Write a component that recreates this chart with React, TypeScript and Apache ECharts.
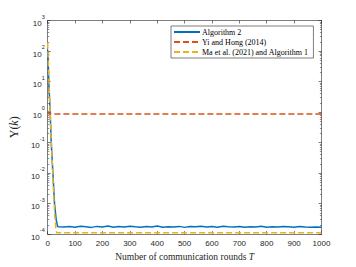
import React, { useEffect, useRef } from "react";
import * as echarts from "echarts";

const seriesNames = ["Algorithm 2", "Yi and Hong (2014)", "Ma et al. (2021) and Algorithm 1"];

const algo2Rounds = [0, 4, 9, 13, 19, 25, 31, 36, 40, 60, 80, 100, 120, 140, 160, 180, 200, 220, 240, 260, 280, 300, 320, 340, 360, 380, 400, 420, 440, 460, 480, 500, 520, 540, 560, 580, 600, 620, 640, 660, 680, 700, 720, 740, 760, 780, 800, 820, 840, 860, 880, 900, 920, 940, 960, 980, 1000];
const algo2Values = [110, 10, 1, 0.1, 0.01, 0.001, 3e-4, 1.8e-4, 1.75e-4, 1.72e-4, 1.78e-4, 1.69e-4, 1.81e-4, 1.74e-4, 1.66e-4, 1.79e-4, 1.71e-4, 1.83e-4, 1.68e-4, 1.76e-4, 1.7e-4, 1.8e-4, 1.73e-4, 1.67e-4, 1.78e-4, 1.72e-4, 1.85e-4, 1.69e-4, 1.75e-4, 1.71e-4, 1.79e-4, 1.66e-4, 1.77e-4, 1.73e-4, 1.82e-4, 1.7e-4, 1.76e-4, 1.68e-4, 1.8e-4, 1.74e-4, 1.71e-4, 1.78e-4, 1.67e-4, 1.75e-4, 1.72e-4, 1.81e-4, 1.69e-4, 1.74e-4, 1.7e-4, 1.77e-4, 1.73e-4, 1.68e-4, 1.76e-4, 1.71e-4, 1.69e-4, 1.72e-4, 1.68e-4];

const yiRounds = [0, 2, 4, 1000];
const yiValues = [1.0, 1.05, 0.87, 0.86];

const maRounds = [0, 3, 7, 11, 16, 21, 26, 30, 33, 1000];
const maValues = [190, 30, 3, 0.3, 0.03, 0.003, 4e-4, 1.5e-4, 1.1e-4, 1.1e-4];

const zip = (xs: number[], ys: number[]) => xs.map((x, i) => [x, ys[i]]);

const minorTicks: number[] = [];
for (let d = -4; d < 3; d++) {
  for (let m = 2; m <= 9; m++) minorTicks.push(d + Math.log10(m));
}

const AX = "#262626";
const SANS = "Liberation Sans";
const SERIF = "Liberation Serif";

export default function App() {
  const ref = useRef<HTMLDivElement>(null);
  useEffect(() => {
    if (!ref.current) return;
    const chart = echarts.init(ref.current, null, { renderer: "svg" });
    const tickStyle = { inside: true, length: 3, lineStyle: { color: AX, width: 0.6 } };
    const axisLine = { show: true, onZero: false, lineStyle: { color: AX, width: 0.6 } };
    const minorAxis = (position: string) => ({
      type: "value",
      position,
      min: -4,
      max: 3,
      axisLine: { show: false, onZero: false },
      axisTick: { inside: true, length: 1.6, lineStyle: { color: AX, width: 0.5 }, customValues: minorTicks },
      splitLine: { show: false },
      axisLabel: { show: false },
    });
    chart.setOption({
      animation: false,
      backgroundColor: "#fff",
      grid: { left: 46.5, right: 34.5, top: 20.5, bottom: 30, containLabel: false },
      legend: {
        left: 171,
        top: 26,
        orient: "vertical",
        padding: [2, 5, 2, 2],
        itemGap: 2,
        itemWidth: 26,
        itemHeight: 8,
        backgroundColor: "#fff",
        borderColor: AX,
        borderWidth: 0.6,
        borderRadius: 0,
        itemStyle: { opacity: 0 },
        textStyle: { fontFamily: SERIF, fontSize: 8, color: "#000", padding: [0, 0, 0, -3] },
        data: seriesNames,
      },
      xAxis: [
        {
          type: "value",
          min: 0,
          max: 1000,
          interval: 100,
          axisLine,
          axisTick: tickStyle,
          splitLine: { show: false },
          axisLabel: { fontFamily: SANS, fontSize: 8, color: AX, margin: 5, formatter: (v: number) => String(v) },
          name: "{n|Number of communication rounds }{i|T}",
          nameLocation: "middle",
          nameGap: 16,
          nameTextStyle: {
            rich: {
              n: { fontFamily: SERIF, fontSize: 9.5, color: AX },
              i: { fontFamily: SERIF, fontSize: 9.5, color: AX, fontStyle: "italic" },
            },
          },
        },
        {
          type: "value",
          position: "top",
          min: 0,
          max: 1000,
          interval: 100,
          axisLine,
          axisTick: tickStyle,
          splitLine: { show: false },
          axisLabel: { show: false },
        },
      ],
      yAxis: [
        {
          type: "log",
          logBase: 10,
          position: "left",
          min: 1e-4,
          max: 1e3,
          splitNumber: 7,
          axisLine,
          axisTick: tickStyle,
          splitLine: { show: false },
          axisLabel: {
            margin: 3,
            formatter: (v: number) => `{b|10}{s|${Math.round(Math.log10(v))}}`,
            rich: {
              b: { fontFamily: SANS, fontSize: 8, color: AX, lineHeight: 14, verticalAlign: "bottom" },
              s: { fontFamily: SANS, fontSize: 5.5, color: AX, lineHeight: 14, verticalAlign: "top" },
            },
          },
          name: "{a|Υ(}{i|k}{a|)}",
          nameLocation: "middle",
          nameGap: 23,
          nameTextStyle: {
            rich: {
              a: { fontFamily: SERIF, fontSize: 12, color: AX },
              i: { fontFamily: SERIF, fontSize: 12, color: AX, fontStyle: "italic" },
            },
          },
        },
        {
          type: "log",
          logBase: 10,
          position: "right",
          min: 1e-4,
          max: 1e3,
          splitNumber: 7,
          axisLine,
          axisTick: tickStyle,
          splitLine: { show: false },
          axisLabel: { show: false },
        },
        minorAxis("left"),
        minorAxis("right"),
      ],
      series: [
        {
          name: seriesNames[0],
          type: "line",
          data: zip(algo2Rounds, algo2Values),
          symbol: "none",
          lineStyle: { color: "#0072BD", width: 1.5 },
          itemStyle: { color: "#0072BD" },
        },
        {
          name: seriesNames[1],
          type: "line",
          data: zip(yiRounds, yiValues),
          symbol: "none",
          lineStyle: { color: "#D95319", width: 1.5, type: [6, 3] },
          itemStyle: { color: "#D95319" },
        },
        {
          name: seriesNames[2],
          type: "line",
          data: zip(maRounds, maValues),
          symbol: "none",
          lineStyle: { color: "#EDB120", width: 1.5, type: [6, 3] },
          itemStyle: { color: "#EDB120" },
        },
      ],
    });
    return () => chart.dispose();
  }, []);
  return <div ref={ref} style={{ width: 356, height: 267, position: "absolute", left: 0, top: 0 }} />;
}
